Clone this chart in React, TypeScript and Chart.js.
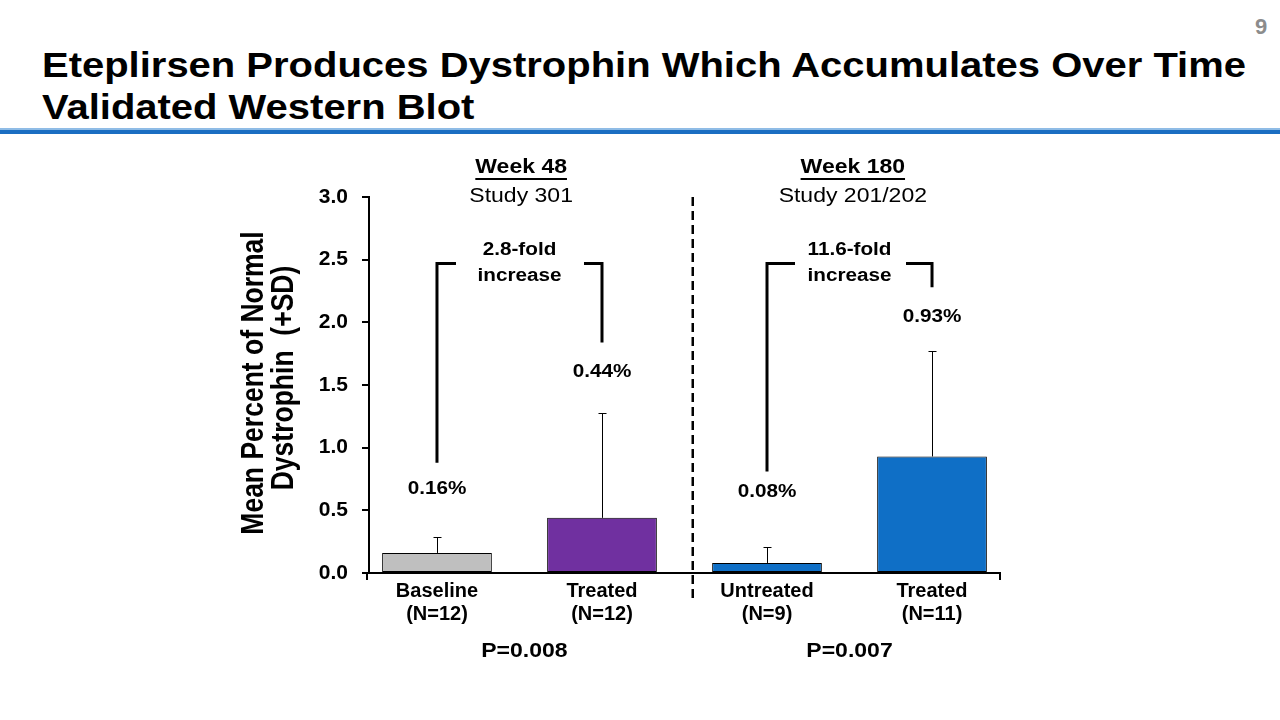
import { useEffect, useRef } from 'react';
import { Chart, registerables } from 'chart.js';

Chart.register(...registerables);

// ---- data ----
const categories = ['Baseline', 'Treated', 'Untreated', 'Treated'];
const nLabels = ['(N=12)', '(N=12)', '(N=9)', '(N=11)'];
const meanValues = [0.16, 0.44, 0.08, 0.93];
const sdValues = [0.13, 0.84, 0.13, 0.84];
const valueLabels = ['0.16%', '0.44%', '0.08%', '0.93%'];
const barColors = ['#bfbfbf', '#7030a0', '#0f6fc6', '#0f6fc6'];
const yTickMin = 0;
const yTickMax = 3;
const yTickStep = 0.5;

const groupWeeks = ['Week 48', 'Week 180'];
const groupStudies = ['Study 301', 'Study 201/202'];
const foldLabels = ['2.8-fold', '11.6-fold'];
const pValues = ['P=0.008', 'P=0.007'];

// ---- annotation layout (data units on the chart's own scales) ----
const valueLabelY = [0.67, 1.6, 0.65, 2.04];
const bracketTop = 2.47;
const bracketBottoms = [
  [0.88, 1.84],
  [0.81, 2.28],
];
const bracketStubs = [
  [19, 18],
  [28, 26],
];
const groupTextX = [0.51, 2.52];
const pTextX = [0.53, 2.5];
const dividerX = 1.55;

const FONT = '"Liberation Sans", Arial, Helvetica, sans-serif';
const SX = 1.15;

function drawText(
  ctx: CanvasRenderingContext2D,
  s: string,
  x: number,
  y: number,
  size: number,
  bold: boolean,
  opts: { sx?: number; color?: string; underline?: boolean; rotate?: boolean } = {}
) {
  ctx.save();
  ctx.font = `${bold ? 'bold ' : ''}${size}px ${FONT}`;
  ctx.fillStyle = opts.color || '#000';
  ctx.textAlign = 'center';
  ctx.textBaseline = 'middle';
  ctx.translate(x, y);
  ctx.scale(opts.sx ?? SX, 1);
  if (opts.rotate) ctx.rotate(-Math.PI / 2);
  ctx.fillText(s, 0, 0);
  if (opts.underline) {
    const w = ctx.measureText(s).width;
    ctx.fillRect(-w / 2, size * 0.55, w, 2);
  }
  ctx.restore();
}

export default function App() {
  const ref = useRef<HTMLCanvasElement>(null);

  useEffect(() => {
    const canvas = ref.current!;
    const overlay = {
      id: 'overlay',
      afterDatasetsDraw(chart: any) {
        const ctx = chart.ctx as CanvasRenderingContext2D;
        const xs = chart.scales.x;
        const ys = chart.scales.y;
        ctx.save();
        ctx.strokeStyle = '#000';
        ctx.lineWidth = 1;
        meanValues.forEach((v, i) => {
          const x = Math.round(xs.getPixelForValue(i)) + 0.5;
          const y0 = ys.getPixelForValue(v);
          const y1 = Math.round(ys.getPixelForValue(v + sdValues[i])) + 0.5;
          ctx.beginPath();
          ctx.moveTo(x, y0);
          ctx.lineTo(x, y1);
          ctx.moveTo(x - 4, y1);
          ctx.lineTo(x + 4, y1);
          ctx.stroke();
        });
        ctx.restore();
      },
      afterDraw(chart: any) {
        const ctx = chart.ctx as CanvasRenderingContext2D;
        const xs = chart.scales.x;
        const ys = chart.scales.y;
        const area = chart.chartArea;
        ctx.save();
        ctx.strokeStyle = '#000';

        // end ticks of the x axis
        ctx.lineWidth = 2;
        ctx.beginPath();
        ctx.moveTo(xs.left - 2, area.bottom);
        ctx.lineTo(xs.left - 2, area.bottom + 7);
        ctx.moveTo(xs.right, area.bottom);
        ctx.lineTo(xs.right, area.bottom + 7);
        ctx.stroke();

        // divider
        ctx.lineWidth = 2.5;
        ctx.setLineDash([9, 5]);
        const dx = xs.getPixelForValue(dividerX);
        ctx.beginPath();
        ctx.moveTo(dx, ys.getPixelForValue(yTickMax));
        ctx.lineTo(dx, area.bottom + 26);
        ctx.stroke();
        ctx.setLineDash([]);

        // brackets
        ctx.lineWidth = 3;
        ctx.lineJoin = 'miter';
        bracketBottoms.forEach((b, g) => {
          const lx = xs.getPixelForValue(g * 2);
          const rx = xs.getPixelForValue(g * 2 + 1);
          const ty = ys.getPixelForValue(bracketTop);
          ctx.beginPath();
          ctx.moveTo(lx, ys.getPixelForValue(b[0]));
          ctx.lineTo(lx, ty);
          ctx.lineTo(lx + bracketStubs[g][0], ty);
          ctx.moveTo(rx - bracketStubs[g][1], ty);
          ctx.lineTo(rx, ty);
          ctx.lineTo(rx, ys.getPixelForValue(b[1]));
          ctx.stroke();
          const fx = xs.getPixelForValue(g * 2 + 0.5);
          drawText(ctx, foldLabels[g], fx, ys.getPixelForValue(2.577), 18, true);
          drawText(ctx, 'increase', fx, ys.getPixelForValue(2.37), 18, true);

          const hx = xs.getPixelForValue(groupTextX[g]);
          drawText(ctx, groupWeeks[g], hx, area.top - 30, 20, true, { underline: true });
          drawText(ctx, groupStudies[g], hx, area.top - 1, 20, false);
          drawText(ctx, pValues[g], xs.getPixelForValue(pTextX[g]), area.bottom + 78, 20, true);
        });

        // value labels
        valueLabels.forEach((s, i) => {
          drawText(ctx, s, xs.getPixelForValue(i), ys.getPixelForValue(valueLabelY[i]), 18, true);
        });

        // y axis title
        const cy = (area.top + area.bottom) / 2;
        drawText(ctx, 'Mean Percent of Normal', area.left - 114, cy - 2, 26.5, true, { rotate: true });
        drawText(ctx, 'Dystrophin  (+SD)', area.left - 84, cy - 7, 26.5, true, { rotate: true });
        ctx.restore();
      },
    };

    const chart = new Chart(canvas, {
      type: 'bar',
      data: {
        datasets: [
          {
            data: categories.map((_, i) => ({ x: i, y: meanValues[i] })) as any,
            backgroundColor: barColors,
            borderColor: '#000',
            borderWidth: 1,
            borderSkipped: false,
            categoryPercentage: 0.665,
            barPercentage: 1,
          },
        ],
      },
      options: {
        animation: false,
        responsive: false,
        layout: { padding: { left: 0, top: 197, right: 280, bottom: 0 } },
        plugins: { legend: { display: false }, tooltip: { enabled: false } },
        scales: {
          x: {
            type: 'linear',
            min: -0.412,
            max: 3.412,
            offset: false,
            grid: { display: false, drawTicks: false, offset: false },
            border: { display: true, color: '#000', width: 2 },
            afterBuildTicks: (s: any) => {
              s.ticks = categories.map((_, i) => ({ value: i }));
            },
            afterFit: (s: any) => {
              s.height = 147;
            },
            ticks: {
              autoSkip: false,
              maxRotation: 0,
              minRotation: 0,
              padding: 7,
              color: '#000',
              font: { family: FONT, size: 20, weight: 'bold', lineHeight: 1.15 },
              callback: (v: any) => [categories[v], nLabels[v]],
            },
          },
          y: {
            min: yTickMin,
            max: yTickMax,
            ticks: {
              stepSize: yTickStep,
              padding: 14,
              color: '#000',
              font: { family: FONT, size: 21, weight: 'bold' },
              callback: (v: any) => Number(v).toFixed(1),
            },
            grid: { drawOnChartArea: false, drawTicks: true, tickLength: 7, color: '#000', lineWidth: 2 },
            border: { display: true, color: '#000', width: 2 },
            afterFit: (s: any) => {
              s.width = 369;
            },
          },
        },
      } as any,
      plugins: [overlay],
    });
    return () => chart.destroy();
  }, []);

  return (
    <div style={{ position: 'absolute', left: 0, top: 0, width: 1280, height: 720, background: '#fff', overflow: 'hidden' }}>
      <div
        style={{
          position: 'absolute',
          left: 1255,
          top: 16,
          font: `bold 22px ${FONT}`,
          lineHeight: 1,
          color: '#8c8c8c',
        }}
      >
        9
      </div>
      <div
        style={{
          position: 'absolute',
          left: 42,
          top: 47.5,
          font: `bold 35.5px ${FONT}`,
          lineHeight: 1,
          color: '#000',
          whiteSpace: 'nowrap',
          transform: 'scaleX(1.126)',
          transformOrigin: '0 0',
        }}
      >
        Eteplirsen Produces Dystrophin Which Accumulates Over Time
      </div>
      <div
        style={{
          position: 'absolute',
          left: 42,
          top: 89.5,
          font: `bold 35.5px ${FONT}`,
          lineHeight: 1,
          color: '#000',
          whiteSpace: 'nowrap',
          transform: 'scaleX(1.126)',
          transformOrigin: '0 0',
        }}
      >
        Validated Western Blot
      </div>
      <div style={{ position: 'absolute', left: 0, top: 128, width: 1280, height: 2, background: '#8fbce6' }} />
      <div style={{ position: 'absolute', left: 0, top: 130, width: 1280, height: 4, background: '#1a6ec2' }} />
      <canvas ref={ref} width={1280} height={720} style={{ position: 'absolute', left: 0, top: 0 }} />
    </div>
  );
}
